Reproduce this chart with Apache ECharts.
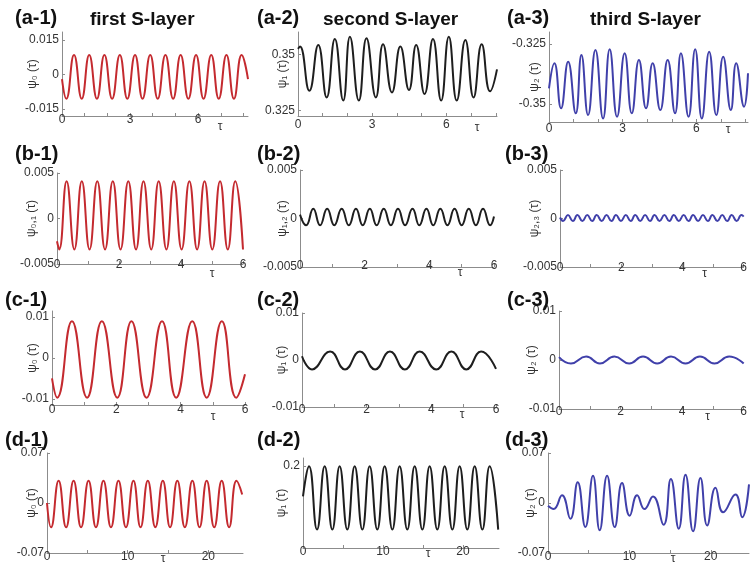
<!DOCTYPE html>
<html lang="en">
<head>
<meta charset="UTF-8">
<title>S-layer oscillations</title>
<style>
    html, body { margin: 0; padding: 0; background: #fff; }
    #chart { width: 750px; height: 568px; }
</style>
</head>
<body>
<div id="chart"></div>
<script src="https://cdn.jsdelivr.net/npm/echarts@6/dist/echarts.min.js"></script>
<script>
    'use strict';
    // ---- texts ----
    const panelLabels = ['(a-1)', '(a-2)', '(a-3)', '(b-1)', '(b-2)', '(b-3)',
        '(c-1)', '(c-2)', '(c-3)', '(d-1)', '(d-2)', '(d-3)'];
    const layerNames = ['first S-layer', 'second S-layer', 'third S-layer'];
    const yNames = ['ψ₀ (τ)', 'ψ₁ (τ)', 'ψ₂ (τ)', 'ψ₀,₁ (τ)', 'ψ₁,₂ (τ)', 'ψ₂,₃ (τ)',
        'ψ₀ (τ)', 'ψ₁ (τ)', 'ψ₂ (τ)', 'ψ₀ (τ)', 'ψ₁ (τ)', 'ψ₂ (τ)'];
    const xName = 'τ';

    // ---- tick labels ----
    const xLabelsA = [0, 3, 6];
    const xLabelsBC = [0, 2, 4, 6];
    const xLabelsD = [0, 10, 20];
    const xTicksA = [0, 1, 2, 3, 4, 5, 6, 7, 8];
    const xTicksBC = [0, 1, 2, 3, 4, 5, 6];
    const xTicksD = [0, 5, 10, 15, 20];
    const yLabelsA1 = [-0.015, 0, 0.015];
    const yLabelsA2 = [0.325, 0.35];
    const yLabelsA3 = [-0.35, -0.325];
    const yLabelsB = [-0.005, 0, 0.005];
    const yLabelsC = [-0.01, 0, 0.01];
    const yLabelsD = [-0.07, 0, 0.07];
    const yLabelsD2 = [0.2];

    // ---- series values [tau, psi] (peaks / troughs) ----
    const psiA1 = [[0, -0.002], [0.19, -0.0105], [0.53, 0.0085], [0.87, -0.0105], [1.2, 0.0085], [1.54, -0.0105],
        [1.87, 0.0085], [2.21, -0.0105], [2.55, 0.0085], [2.88, -0.0105], [3.22, 0.0085], [3.55, -0.0105],
        [3.89, 0.0085], [4.22, -0.0105], [4.56, 0.0085], [4.9, -0.0105], [5.23, 0.0085], [5.57, -0.0105],
        [5.91, 0.0085], [6.24, -0.0105], [6.58, 0.0085], [6.91, -0.0105], [7.25, 0.0085], [7.58, -0.0105],
        [7.92, 0.0085], [8.2, -0.002]];
    const psiA2 = [[0, 0.3525], [0.08, 0.3535], [0.46, 0.3338], [0.82, 0.3542], [1.16, 0.3308], [1.49, 0.3569],
        [1.83, 0.3294], [2.1, 0.3579], [2.46, 0.3294], [2.77, 0.3572], [3.15, 0.3308], [3.44, 0.3545],
        [3.8, 0.333], [4.14, 0.3535], [4.49, 0.3341], [4.78, 0.3542], [5.12, 0.3323], [5.46, 0.3569],
        [5.79, 0.3294], [6.1, 0.3579], [6.42, 0.3294], [6.77, 0.3564], [7.1, 0.3308], [7.43, 0.3545],
        [7.77, 0.3335], [8.05, 0.3433]];
    const psiA3 = [[0, -0.3435], [0.22, -0.333], [0.49, -0.3518], [0.78, -0.3324], [1.09, -0.3539], [1.32, -0.3296],
        [1.59, -0.3546], [1.89, -0.3275], [2.2, -0.356], [2.47, -0.3272], [2.77, -0.3553], [3.08, -0.3289],
        [3.37, -0.3539], [3.66, -0.3317], [3.95, -0.3518], [4.22, -0.333], [4.53, -0.3525], [4.83, -0.3317],
        [5.13, -0.3539], [5.37, -0.3289], [5.68, -0.3553], [5.95, -0.3272], [6.22, -0.356], [6.52, -0.3282],
        [6.81, -0.3546], [7.09, -0.3303], [7.4, -0.3525], [7.62, -0.333], [7.94, -0.3511], [8.1, -0.3372]];
    const psiB1 = [[0, -0.0025], [0.07, -0.0034], [0.31, 0.0041], [0.56, -0.0034], [0.8, 0.0041], [1.05, -0.0034],
        [1.3, 0.0041], [1.55, -0.0034], [1.8, 0.0041], [2.05, -0.0034], [2.3, 0.0041], [2.55, -0.0034],
        [2.79, 0.0041], [3.04, -0.0034], [3.28, 0.0041], [3.53, -0.0034], [3.77, 0.0041], [4.02, -0.0034],
        [4.27, 0.0041], [4.52, -0.0034], [4.76, 0.0041], [5.01, -0.0034], [5.26, 0.0041], [5.51, -0.0034],
        [5.75, 0.0041], [6, -0.0034]];
    const psiB2 = [[0, 0.0004], [0.19, -0.0007], [0.41, 0.001], [0.62, -0.0007], [0.84, 0.001], [1.06, -0.0007],
        [1.29, 0.001], [1.51, -0.0007], [1.73, 0.001], [1.94, -0.0007], [2.16, 0.001], [2.37, -0.0007],
        [2.59, 0.001], [2.81, -0.0007], [3.03, 0.001], [3.25, -0.0007], [3.48, 0.001], [3.69, -0.0007],
        [3.91, 0.001], [4.12, -0.0007], [4.34, 0.001], [4.56, -0.0007], [4.78, 0.001], [5, -0.0007],
        [5.22, 0.001], [5.44, -0.0007], [5.66, 0.001], [5.88, -0.0007], [6, 0.0002]];
    const psiB3 = [[0, 0.0001], [0.1, -0.00025], [0.26, 0.00035], [0.42, -0.00025], [0.57, 0.00035], [0.73, -0.00025],
        [0.89, 0.00035], [1.05, -0.00025], [1.2, 0.00035], [1.36, -0.00025], [1.52, 0.00035], [1.68, -0.00025],
        [1.83, 0.00035], [1.99, -0.00025], [2.15, 0.00035], [2.31, -0.00025], [2.46, 0.00035], [2.62, -0.00025],
        [2.78, 0.00035], [2.94, -0.00025], [3.09, 0.00035], [3.25, -0.00025], [3.41, 0.00035], [3.57, -0.00025],
        [3.72, 0.00035], [3.88, -0.00025], [4.04, 0.00035], [4.2, -0.00025], [4.35, 0.00035], [4.51, -0.00025],
        [4.67, 0.00035], [4.83, -0.00025], [4.98, 0.00035], [5.14, -0.00025], [5.3, 0.00035], [5.46, -0.00025],
        [5.61, 0.00035], [5.77, -0.00025], [5.93, 0.00035], [6, 0.0002]];
    const psiC1 = [[0, -0.005], [0.16, -0.0097], [0.62, 0.009], [1.09, -0.0097], [1.55, 0.009], [2.03, -0.0097],
        [2.47, 0.009], [2.94, -0.0097], [3.42, 0.009], [3.86, -0.0097], [4.36, 0.009], [4.81, -0.0097],
        [5.28, 0.009], [5.73, -0.0097], [6, -0.004]];
    const psiC2 = [[0, 0.0008], [0.31, -0.002], [0.87, 0.0018], [1.33, -0.002], [1.79, 0.0018], [2.26, -0.002],
        [2.72, 0.0018], [3.18, -0.002], [3.64, 0.0018], [4.15, -0.002], [4.62, 0.0018], [5.08, -0.002],
        [5.54, 0.0018], [6, -0.0019]];
    const psiC3 = [[0, 0.0006], [0.39, -0.0007], [0.88, 0.0007], [1.33, -0.0007], [1.8, 0.0007], [2.28, -0.0007],
        [2.73, 0.0007], [3.19, -0.0007], [3.64, 0.0007], [4.11, -0.0007], [4.58, 0.0007], [5.05, -0.0007],
        [5.53, 0.0007], [6, -0.0007]];
    const psiD1 = [[0, 0], [0.5, -0.034], [1.44, 0.031], [2.37, -0.034], [3.3, 0.031], [4.22, -0.034],
        [5.15, 0.031], [6.07, -0.034], [7, 0.031], [7.93, -0.034], [8.86, 0.031], [9.79, -0.034],
        [10.72, 0.031], [11.6, -0.034], [12.5, 0.031], [13.43, -0.034], [14.36, 0.031], [15.26, -0.034],
        [16.16, 0.031], [17.09, -0.034], [18.02, 0.031], [18.91, -0.034], [19.8, 0.031], [20.73, -0.034],
        [21.66, 0.031], [22.58, -0.034], [23.5, 0.031], [24.2, 0.012]];
    const psiD2 = [[0, 0.126], [0.75, 0.2], [1.75, 0.045], [2.71, 0.2], [3.67, 0.045], [4.58, 0.2],
        [5.54, 0.045], [6.46, 0.2], [7.42, 0.045], [8.33, 0.2], [9.29, 0.045], [10.21, 0.2],
        [11.17, 0.045], [12.08, 0.2], [13.04, 0.045], [13.96, 0.2], [14.92, 0.045], [15.83, 0.2],
        [16.79, 0.045], [17.71, 0.2], [18.67, 0.045], [19.58, 0.2], [20.54, 0.045], [21.46, 0.2],
        [22.42, 0.045], [23.33, 0.2], [24.4, 0.045]];
    const psiD3 = [[0, -0.004], [0.69, -0.0085], [1.72, 0.0107], [2.75, -0.022], [3.65, 0.029], [4.59, -0.0336],
        [5.53, 0.038], [6.35, -0.038], [7.26, 0.038], [8.2, -0.0336], [9.1, 0.028], [10.04, -0.0177],
        [10.95, 0.0107], [11.85, -0.0085], [12.9, 0.009], [14.2, -0.0304], [15.1, 0.0336], [16.07, -0.0359],
        [16.9, 0.0395], [17.83, -0.0396], [18.74, 0.035], [19.56, -0.0314], [20.58, 0.0212], [21.52, -0.013],
        [23.04, 0.012], [23.86, -0.0199], [24.7, 0.026]];

    // ---- layout (px): grid [left, top, right, bottom] ----
    const boxes = [
        [62, 32, 248, 116], [298, 32, 497, 116], [549, 32, 748, 122],
        [57, 173, 243, 264], [300, 170, 494, 267], [560, 170, 749, 267],
        [52, 311, 245, 405], [302, 313, 496, 407], [559, 311, 749, 409],
        [47, 453, 243, 553], [303, 458, 499, 548], [548, 453, 749, 553]
    ];
    const labelPos = [[15, 8], [257, 8], [507, 8], [15, 144], [257, 144], [505, 144],
        [5, 290], [257, 290], [507, 290], [5, 430], [257, 430], [505, 430]];
    const layerPos = [[90, 10], [323, 10], [590, 10]];
    const yNameGap = [23, 9, 8, 19, 11, 19, 13, 14, 21, 9, 15, 11];
    const tauGap = [-28, -20, -20, -31, -34, -39, -32, -34, -36, -80, -71, -76];
    const tauPad = [5, 6, 2, 4, 0, 1, 6, 2, 2, 0, 0, 0];
    const xLabelMargin = [-2, 3, 1, -5, -7, -5, -1, -3, -3, -2, -2, -2];

    const xMax = [8.2, 8.05, 8.1, 6, 6, 6, 6, 6, 6, 24.3, 24.5, 24.7];
    const yRange = [[-0.018, 0.0185], [0.3225, 0.36], [-0.3575, -0.32],
        [-0.005, 0.005], [-0.005, 0.005], [-0.005, 0.005],
        [-0.0115, 0.0115], [-0.01, 0.01], [-0.01, 0.01],
        [-0.07, 0.07], [0, 0.22], [-0.07, 0.07]];
    const yLabels = [yLabelsA1, yLabelsA2, yLabelsA3, yLabelsB, yLabelsB, yLabelsB,
        yLabelsC, yLabelsC, yLabelsC, yLabelsD, yLabelsD2, yLabelsD];
    const series = [psiA1, psiA2, psiA3, psiB1, psiB2, psiB3, psiC1, psiC2, psiC3, psiD1, psiD2, psiD3];
    const colColors = ['#c42a2f', '#1e1e1e', '#4040aa'];

    const font = "'Liberation Sans', Arial, 'DejaVu Sans', sans-serif";
    const axisGray = '#8c8c8c';

    let option = {
        animation: false,
        backgroundColor: '#fff',
        title: [],
        grid: [],
        xAxis: [],
        yAxis: [],
        series: []
    };

    for (let i = 0; i < 12; i++) {
        let row = Math.floor(i / 3), col = i % 3;
        let b = boxes[i];
        option.title.push({
            text: panelLabels[i], left: labelPos[i][0], top: labelPos[i][1], padding: 0,
            textStyle: {fontSize: 20, fontWeight: 'bold', color: '#111', fontFamily: font}
        });
        option.grid.push({left: b[0], top: b[1], width: b[2] - b[0], height: b[3] - b[1], containLabel: false});
        let xl = row === 0 ? xLabelsA : (row === 3 ? xLabelsD : xLabelsBC);
        let xt = row === 0 ? xTicksA : (row === 3 ? xTicksD : xTicksBC);
        option.xAxis.push({
            type: 'value', gridIndex: i, min: 0, max: xMax[i],
            name: xName, nameLocation: 'end', nameGap: tauGap[i], nameMoveOverlap: false,
            nameTextStyle: {fontSize: 12, color: '#333', fontFamily: font, align: 'center',
                verticalAlign: 'top', padding: [tauPad[i], 0, 0, 0]},
            axisLine: {show: true, onZero: false, lineStyle: {color: axisGray, width: 1}},
            axisTick: {show: true, inside: true, length: 3, customValues: xt, lineStyle: {color: axisGray}},
            axisLabel: {customValues: xl, margin: xLabelMargin[i], fontSize: 12, lineHeight: 12,
                color: '#333', fontFamily: font},
            splitLine: {show: false}
        });
        option.yAxis.push({
            type: 'value', gridIndex: i, min: yRange[i][0], max: yRange[i][1],
            name: yNames[i], nameLocation: 'middle', nameGap: yNameGap[i], nameMoveOverlap: false,
            nameTextStyle: {fontSize: 12, color: '#333', fontFamily: font},
            axisLine: {show: true, onZero: false, lineStyle: {color: axisGray, width: 1}},
            axisTick: {show: true, inside: true, length: 3, customValues: yLabels[i], lineStyle: {color: axisGray}},
            axisLabel: {customValues: yLabels[i], margin: 3, fontSize: 12, color: '#333', fontFamily: font},
            splitLine: {show: false}
        });
        option.series.push({
            type: 'line', xAxisIndex: i, yAxisIndex: i, data: series[i],
            showSymbol: false, smooth: true, silent: true,
            lineStyle: {color: colColors[col], width: 2}
        });
    }
    for (let c = 0; c < 3; c++) {
        option.title.push({
            text: layerNames[c], left: layerPos[c][0], top: layerPos[c][1], padding: 0,
            textStyle: {fontSize: 19, fontWeight: 'bold', color: '#111', fontFamily: font}
        });
    }

    let myChart = echarts.init(document.getElementById('chart'));
    myChart.setOption(option);
</script>
</body>
</html>
